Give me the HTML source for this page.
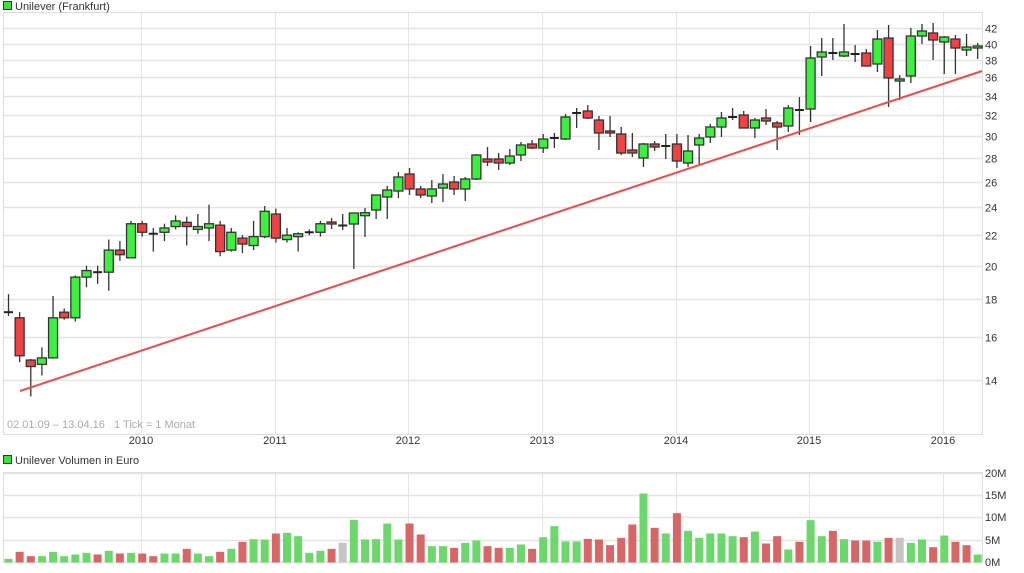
<!DOCTYPE html>
<html><head><meta charset="utf-8"><style>
body{margin:0;background:#fff;width:1024px;height:573px;overflow:hidden;font-family:"Liberation Sans",sans-serif}
svg{display:block}
text{font-family:"Liberation Sans",sans-serif;white-space:pre}
</style></head><body>
<svg id="s" width="1024" height="573" xmlns="http://www.w3.org/2000/svg"></svg>
<script>
const NS="http://www.w3.org/2000/svg",S=document.getElementById('s');
function el(t,a,txt){const e=document.createElementNS(NS,t);for(const k in a)e.setAttribute(k,a[k]);if(txt!==undefined)e.textContent=txt;S.appendChild(e);return e;}
const yP=p=>28+320.4*(Math.log(42)-Math.log(p));
const xI=i=>8.5+11.14*i;
el('rect',{x:3.5,y:12.5,width:979,height:422,fill:'#fff',stroke:'#ddd'});
el('rect',{x:3.5,y:472.5,width:979,height:90,fill:'#fff',stroke:'#ddd'});
[14,16,18,20,22,24,26,28,30,32,34,36,38,40,42].forEach(p=>{const y=Math.round(yP(p))+.5;
 el('line',{x1:4,x2:982,y1:y,y2:y,stroke:'#e4e4e4','stroke-width':1.5});
 el('text',{x:985,y:y+4,'font-size':11,fill:'#333'},String(p));});
const years=[[141,'2010'],[275,'2011'],[408,'2012'],[542,'2013'],[676,'2014'],[809,'2015'],[943,'2016']];
years.forEach(([x,l])=>{el('line',{x1:x+.5,x2:x+.5,y1:13,y2:434,stroke:'#e4e4e4'});
 el('line',{x1:x+.5,x2:x+.5,y1:473,y2:562,stroke:'#e4e4e4'});
 el('text',{x:x,y:444,'font-size':11,fill:'#333','text-anchor':'middle'},l);});
[[473,'20M'],[495,'15M'],[517,'10M'],[540,'5M'],[562,'0M']].forEach(([y,l])=>{
 el('line',{x1:4,x2:982,y1:y+.5,y2:y+.5,stroke:'#e4e4e4','stroke-width':1.5});
 el('text',{x:985,y:y+4,'font-size':11,fill:'#333'},l);});
el('rect',{x:3.5,y:1.5,width:8,height:8,fill:'#3ee03e',stroke:'#333'});
el('text',{x:15,y:10,'font-size':11,fill:'#333'},'Unilever (Frankfurt)');
el('rect',{x:3.5,y:455.5,width:8,height:8,fill:'#3ee03e',stroke:'#333'});
el('text',{x:15,y:464,'font-size':11,fill:'#333'},'Unilever Volumen in Euro');
el('text',{x:7,y:428,'font-size':11,fill:'#aaa','xml:space':'preserve'},'02.01.09 – 13.04.16   1 Tick = 1 Monat');
const P=[[17.3,18.3,17.1,17.25],[17.0,17.3,14.8,15.1],[14.9,14.95,13.3,14.6],[14.7,15.5,14.2,15.0],[15.0,18.2,15.0,17.0],[17.3,17.5,16.9,17.0],[17.0,19.4,16.8,19.3],[19.3,20.0,18.7,19.7],[19.6,20.0,18.9,19.6],[19.6,21.7,18.5,21.0],[21.0,21.6,20.3,20.7],[20.5,23.0,20.5,22.8],[22.8,23.0,21.9,22.2],[22.1,22.5,20.9,22.1],[22.2,22.8,21.6,22.5],[22.6,23.4,22.4,23.0],[22.9,23.3,21.3,22.6],[22.4,23.5,22.1,22.6],[22.5,24.2,21.6,22.8],[22.7,23.0,20.6,20.9],[21.0,22.5,20.9,22.2],[21.8,22.0,20.8,21.4],[21.3,23.0,21.0,21.9],[21.9,24.1,21.8,23.7],[23.5,23.9,21.5,21.8],[21.7,22.5,21.5,22.0],[21.9,22.2,20.9,22.1],[22.2,22.4,22.0,22.2],[22.2,23.0,21.9,22.8]];
const Y=P.map(a=>a.map(yP)).concat([[222,218,229,224],[225.5,214,230,225.8],[224,213,269,213],[215.7,208,237,212.7],[210,208,219,195],[197,186,219,190],[191,172,198,177],[174,168,195,189],[189,186,198,195],[196,180,203,189],[188,174,202,184],[182,176,195,189],[189,177,201,179],[179,154,180,155],[159,147,166,162],[159,153,170,163],[163,149,165,156],[155,142,161,145],[144,140,149,148],[148,134,153,139],[138,133,148,138],[139,114,140,117],[113,108,128,113],[111,105,119,118],[120,116,150,133],[131,116,137,133],[134,127,155,153],[150,133,157,153],[158,143,167,144],[144,141,151,147],[146,134,159,146],[144,134,168,161],[163,135,167,151],[145,134,165,138],[137,124,143,127],[127,112,137,118],[117,108,120,117],[115,111,122,128],[128,118,138,120],[118,109,125,121],[123,121,150,127],[126,105,132,108],[110,97,135,110],[109,46,122,58],[57,38,76,52],[53,38,60,53],[56,24,57,52],[54,45,62,54],[53,49,65,66],[64,30,72,39],[38,25,107,78],[81,75,100,79],[76,28,83,36],[36,24,44,31],[33,23,60,40],[42,36,74,37],[39,35,74,48],[50,34,56,47],[48,43,59,46]]);
Y.forEach((c,i)=>{const x=xI(i),[o,h,l,cl]=c;
 el('line',{x1:x,x2:x,y1:h,y2:l,stroke:'#333','stroke-width':1.3});
 const top=Math.min(o,cl),bh=Math.abs(o-cl);
 if(bh<1.5){el('line',{x1:x-4.5,x2:x+4.5,y1:o,y2:o,stroke:'#222','stroke-width':2});}
 else el('rect',{x:x-4.5,y:top,width:9,height:bh,fill:cl<o?'#3ef03e':'#f04242',stroke:'#333','stroke-width':1.3});});
el('line',{x1:20,y1:391,x2:982,y2:71,stroke:'#f04a4a','stroke-width':2});
const V=[[327,'g'],[306,'r'],[319,'r'],[319,'g'],[306,'g'],[319,'g'],[314,'g'],[309,'g'],[314,'r'],[303,'g'],[311,'r'],[309,'g'],[311,'r'],[319,'r'],[311,'g'],[311,'g'],[297,'r'],[311,'g'],[319,'g'],[306,'r'],[297,'g'],[276,'r'],[268,'g'],[269,'g'],[251,'r'],[249,'g'],[259,'g'],[309,'g'],[303,'g'],[297,'r'],[279,'x'],[210,'g'],[269,'g'],[268,'g'],[221,'g'],[269,'g'],[221,'r'],[254,'r'],[289,'g'],[289,'g'],[294,'r'],[279,'g'],[272,'g'],[289,'r'],[294,'r'],[294,'g'],[284,'g'],[297,'r'],[262,'g'],[229,'g'],[275,'g'],[275,'g'],[267,'r'],[269,'r'],[286,'r'],[264,'r'],[224,'r'],[131,'g'],[234,'r'],[251,'g'],[190,'r'],[243,'g'],[264,'g'],[251,'g'],[251,'g'],[259,'g'],[262,'r'],[245,'g'],[281,'r'],[259,'r'],[299,'g'],[276,'r'],[211,'g'],[259,'g'],[243,'r'],[268,'g'],[272,'r'],[272,'r'],[276,'g'],[264,'r'],[264,'x'],[279,'g'],[269,'g'],[292,'r'],[257,'g'],[276,'r'],[286,'r'],[314,'g']];
const col={g:'#6cd86c',r:'#d96666',x:'#c4c4c4'};
V.forEach(([t,c],i)=>{const h=(338-t)/3;el('rect',{x:xI(i)-4,y:562.5-h,width:8,height:h,fill:col[c]});});
</script>
</body></html>
